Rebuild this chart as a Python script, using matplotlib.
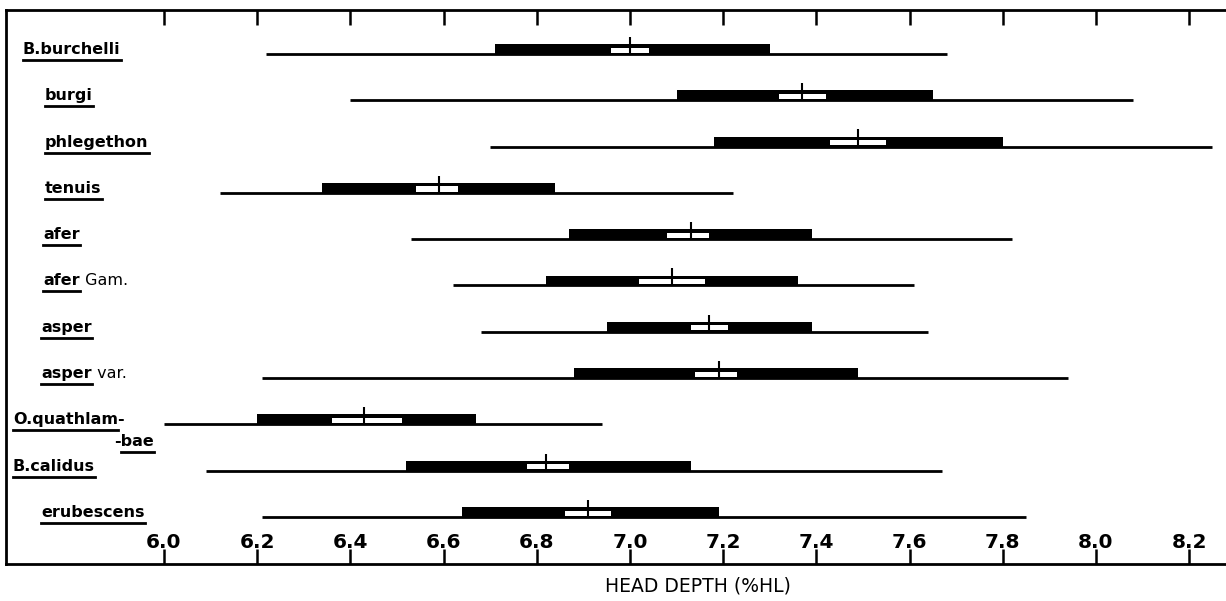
import matplotlib
matplotlib.use("Agg")
import matplotlib.pyplot as plt
from matplotlib.lines import Line2D

# --- data (head depth, % of head length) ---
species = ["B.burchelli", "burgi", "phlegethon", "tenuis", "afer", "afer",
           "asper", "asper", "O.quathlam-", "B.calidus", "erubescens"]
suffixes = ["", "", "", "", "", " Gam.", "", " var.", "", "", ""]
range_lo = [6.22, 6.40, 6.70, 6.12, 6.53, 6.62, 6.68, 6.21, 6.00, 6.09, 6.21]
range_hi = [7.68, 8.08, 8.25, 7.22, 7.82, 7.61, 7.64, 7.94, 6.94, 7.67, 7.85]
sd_lo = [6.71, 7.10, 7.18, 6.34, 6.87, 6.82, 6.95, 6.88, 6.20, 6.52, 6.64]
sd_hi = [7.30, 7.65, 7.80, 6.84, 7.39, 7.36, 7.39, 7.49, 6.67, 7.13, 7.19]
ci_lo = [6.96, 7.32, 7.43, 6.54, 7.08, 7.02, 7.13, 7.14, 6.36, 6.78, 6.86]
ci_hi = [7.04, 7.42, 7.55, 6.63, 7.17, 7.16, 7.21, 7.23, 6.51, 6.87, 6.96]
means = [7.00, 7.37, 7.49, 6.59, 7.13, 7.09, 7.17, 7.19, 6.43, 6.82, 6.91]
ticks = [6.0, 6.2, 6.4, 6.6, 6.8, 7.0, 7.2, 7.4, 7.6, 7.8, 8.0, 8.2]
tick_labels = ["6.0", "6.2", "6.4", "6.6", "6.8", "7.0", "7.2", "7.4", "7.6", "7.8", "8.0", "8.2"]

# left edge of each row label, in pixels
label_px = [23, 45, 45, 45, 43, 43, 41, 41, 13, 13, 41]

W, H = 1226, 601
LAB_FS = 11.5
fig = plt.figure(figsize=(W / 100, H / 100), dpi=100)
ax = fig.add_axes([6 / W, 37 / H, 1220 / W, 554 / H])
ax.set_xlim(5.661, 8.279)
ax.set_ylim(11.015, -0.95)

rows = list(range(len(species)))
ax.hlines(rows, range_lo, range_hi, color="black", lw=2.0, zorder=2)
ax.barh([r - 0.1 for r in rows], [h - l for l, h in zip(sd_lo, sd_hi)], left=sd_lo,
        height=0.23, color="black", zorder=3)
ax.barh([r - 0.085 for r in rows], [h - l for l, h in zip(ci_lo, ci_hi)], left=ci_lo,
        height=0.11, color="white", zorder=4)
ax.vlines(means, [r - 0.37 for r in rows], rows, color="black", lw=1.5, zorder=5)

for side in ("top", "bottom", "left"):
    ax.spines[side].set_linewidth(2.0)
ax.spines["right"].set_visible(False)
ax.set_yticks([])
ax.set_xticks(ticks, labels=tick_labels, fontsize=14.5, fontweight="bold", va="baseline")
ax.tick_params(axis="x", direction="in", top=True, bottom=True, length=11, width=1.8, pad=-11.5)
ax.set_xlabel("HEAD DEPTH (%HL)", fontsize=13.5, va="center")
ax.xaxis.set_label_coords((698 - 6) / 1220, -22 / 554)

# row labels, genus/species part underlined
lab_kw = dict(fontsize=LAB_FS, fontweight="bold", va="baseline", transform=ax.get_yaxis_transform())
fig.canvas.draw()
rend = fig.canvas.get_renderer()
to_fig = fig.transFigure.inverted()


def underline(x0, x1, ybase):
    (fx0, fy), (fx1, _) = to_fig.transform([(x0, ybase - 6), (x1, ybase - 6)])
    fig.add_artist(Line2D([fx0, fx1], [fy, fy], transform=fig.transFigure, color="black", lw=2.0))


def text_width(s):
    tmp = ax.text(0, 0, s, fontsize=LAB_FS, fontweight="bold")
    w = tmp.get_window_extent(rend).width
    tmp.remove()
    return w


hyph = text_width("-")
for r, name, suf, px in zip(rows, species, suffixes, label_px):
    t = ax.text((px - 6) / 1220, r, name, ha="left", **lab_kw)
    bb = t.get_window_extent(rend)
    ybase = ax.transData.transform((0, r))[1]
    x1 = bb.x1 - hyph if name.endswith("-") else bb.x1
    underline(bb.x0, x1, ybase)
    if suf:
        ax.annotate(suf, xy=(1, 0), xycoords=t, va="bottom", ha="left", fontsize=LAB_FS)
    if name.endswith("-"):
        t2 = ax.text((154 - 6) / 1220, r + 0.47, "-bae", ha="right", **lab_kw)
        bb2 = t2.get_window_extent(rend)
        underline(bb2.x0 + hyph, bb2.x1, ax.transData.transform((0, r + 0.47))[1])

fig.savefig("out.png", dpi=100)
